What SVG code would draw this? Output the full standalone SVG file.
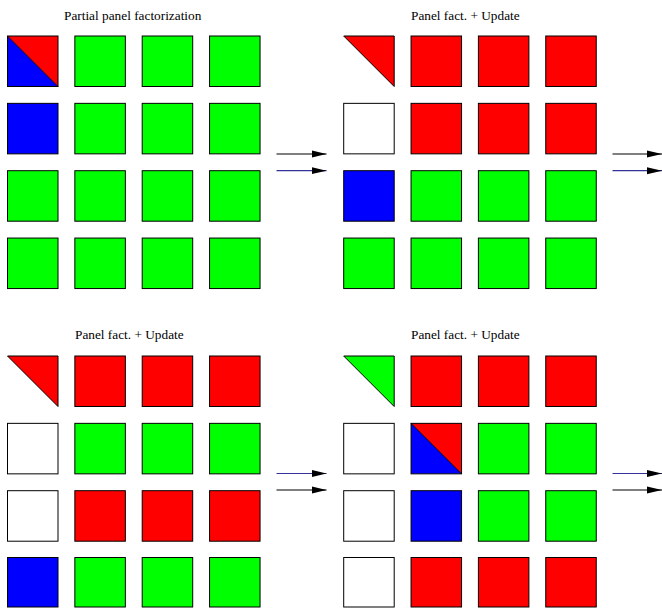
<svg xmlns="http://www.w3.org/2000/svg" width="662" height="608" viewBox="0 0 662 608">
<style>
.c{stroke:#000;stroke-width:1}
.r{fill:#ff0000}.g{fill:#00ff00}.b{fill:#0000ff}.w{fill:#ffffff}
.n{fill:none;stroke:#000;stroke-width:1}
.t{font-family:"Liberation Serif","Times New Roman",serif;font-size:13.3px;fill:#000}
.a1{stroke:#000;stroke-width:1.2;fill:none}
.a2{stroke:#333399;stroke-width:1.2;fill:none}
</style>
<defs>
<marker id="ah" markerWidth="15" markerHeight="8" refX="15" refY="4" orient="auto" markerUnits="userSpaceOnUse">
<path d="M0,0.5 L15,4 L0,7.5 Z" fill="#000"/>
</marker>
</defs>

<g id="panel-top-left">
<text class="t" x="64" y="20">Partial panel factorization</text>
<polygon class="b" points="7.5,36 7.5,86.5 58,86.5"/>
<polygon class="r" points="7.5,36 58,36 58,86.5"/>
<rect class="n" x="7.5" y="36" width="50.5" height="50.5"/>
<line class="n" x1="7.5" y1="36" x2="58" y2="86.5"/>
<rect class="c g" x="74.85" y="36" width="50.5" height="50.5"/>
<rect class="c g" x="142.2" y="36" width="50.5" height="50.5"/>
<rect class="c g" x="209.55" y="36" width="50.5" height="50.5"/>
<rect class="c b" x="7.5" y="103.35" width="50.5" height="50.5"/>
<rect class="c g" x="74.85" y="103.35" width="50.5" height="50.5"/>
<rect class="c g" x="142.2" y="103.35" width="50.5" height="50.5"/>
<rect class="c g" x="209.55" y="103.35" width="50.5" height="50.5"/>
<rect class="c g" x="7.5" y="170.7" width="50.5" height="50.5"/>
<rect class="c g" x="74.85" y="170.7" width="50.5" height="50.5"/>
<rect class="c g" x="142.2" y="170.7" width="50.5" height="50.5"/>
<rect class="c g" x="209.55" y="170.7" width="50.5" height="50.5"/>
<rect class="c g" x="7.5" y="238.05" width="50.5" height="50.5"/>
<rect class="c g" x="74.85" y="238.05" width="50.5" height="50.5"/>
<rect class="c g" x="142.2" y="238.05" width="50.5" height="50.5"/>
<rect class="c g" x="209.55" y="238.05" width="50.5" height="50.5"/>
</g>

<g id="panel-top-right">
<text class="t" x="411" y="20">Panel fact. + Update</text>
<polygon class="c r" points="343.7,36 394.2,36 394.2,86.5"/>
<rect class="c r" x="411.05" y="36" width="50.5" height="50.5"/>
<rect class="c r" x="478.4" y="36" width="50.5" height="50.5"/>
<rect class="c r" x="545.75" y="36" width="50.5" height="50.5"/>
<rect class="c w" x="343.7" y="103.35" width="50.5" height="50.5"/>
<rect class="c r" x="411.05" y="103.35" width="50.5" height="50.5"/>
<rect class="c r" x="478.4" y="103.35" width="50.5" height="50.5"/>
<rect class="c r" x="545.75" y="103.35" width="50.5" height="50.5"/>
<rect class="c b" x="343.7" y="170.7" width="50.5" height="50.5"/>
<rect class="c g" x="411.05" y="170.7" width="50.5" height="50.5"/>
<rect class="c g" x="478.4" y="170.7" width="50.5" height="50.5"/>
<rect class="c g" x="545.75" y="170.7" width="50.5" height="50.5"/>
<rect class="c g" x="343.7" y="238.05" width="50.5" height="50.5"/>
<rect class="c g" x="411.05" y="238.05" width="50.5" height="50.5"/>
<rect class="c g" x="478.4" y="238.05" width="50.5" height="50.5"/>
<rect class="c g" x="545.75" y="238.05" width="50.5" height="50.5"/>
</g>

<g id="panel-bottom-left">
<text class="t" x="75" y="339">Panel fact. + Update</text>
<polygon class="c r" points="7.5,356 58,356 58,406.5"/>
<rect class="c r" x="74.85" y="356" width="50.5" height="50.5"/>
<rect class="c r" x="142.2" y="356" width="50.5" height="50.5"/>
<rect class="c r" x="209.55" y="356" width="50.5" height="50.5"/>
<rect class="c w" x="7.5" y="423.35" width="50.5" height="50.5"/>
<rect class="c g" x="74.85" y="423.35" width="50.5" height="50.5"/>
<rect class="c g" x="142.2" y="423.35" width="50.5" height="50.5"/>
<rect class="c g" x="209.55" y="423.35" width="50.5" height="50.5"/>
<rect class="c w" x="7.5" y="490.7" width="50.5" height="50.5"/>
<rect class="c r" x="74.85" y="490.7" width="50.5" height="50.5"/>
<rect class="c r" x="142.2" y="490.7" width="50.5" height="50.5"/>
<rect class="c r" x="209.55" y="490.7" width="50.5" height="50.5"/>
<rect class="c b" x="7.5" y="557.5" width="50.5" height="49.5"/>
<rect class="c g" x="74.85" y="557.5" width="50.5" height="49.5"/>
<rect class="c g" x="142.2" y="557.5" width="50.5" height="49.5"/>
<rect class="c g" x="209.55" y="557.5" width="50.5" height="49.5"/>
</g>

<g id="panel-bottom-right">
<text class="t" x="411" y="339">Panel fact. + Update</text>
<polygon class="c g" points="343.7,356 394.2,356 394.2,406.5"/>
<rect class="c r" x="411.05" y="356" width="50.5" height="50.5"/>
<rect class="c r" x="478.4" y="356" width="50.5" height="50.5"/>
<rect class="c r" x="545.75" y="356" width="50.5" height="50.5"/>
<rect class="c w" x="343.7" y="423.35" width="50.5" height="50.5"/>
<polygon class="b" points="411.05,423.35 411.05,473.85 461.55,473.85"/>
<polygon class="r" points="411.05,423.35 461.55,423.35 461.55,473.85"/>
<rect class="n" x="411.05" y="423.35" width="50.5" height="50.5"/>
<line class="n" x1="411.05" y1="423.35" x2="461.55" y2="473.85"/>
<rect class="c g" x="478.4" y="423.35" width="50.5" height="50.5"/>
<rect class="c g" x="545.75" y="423.35" width="50.5" height="50.5"/>
<rect class="c w" x="343.7" y="490.7" width="50.5" height="50.5"/>
<rect class="c b" x="411.05" y="490.7" width="50.5" height="50.5"/>
<rect class="c g" x="478.4" y="490.7" width="50.5" height="50.5"/>
<rect class="c g" x="545.75" y="490.7" width="50.5" height="50.5"/>
<rect class="c w" x="343.7" y="557.5" width="50.5" height="49.5"/>
<rect class="c r" x="411.05" y="557.5" width="50.5" height="49.5"/>
<rect class="c r" x="478.4" y="557.5" width="50.5" height="49.5"/>
<rect class="c r" x="545.75" y="557.5" width="50.5" height="49.5"/>
</g>

<g id="connectors">
<line class="a1" x1="276.5" y1="154" x2="326.5" y2="154" marker-end="url(#ah)"/>
<line class="a2" x1="276.5" y1="170.7" x2="326.5" y2="170.7" marker-end="url(#ah)"/>
<line class="a1" x1="612.5" y1="154" x2="662" y2="154" marker-end="url(#ah)"/>
<line class="a2" x1="612.5" y1="170.7" x2="662" y2="170.7" marker-end="url(#ah)"/>
<line class="a2" x1="276.5" y1="473.5" x2="326.5" y2="473.5" marker-end="url(#ah)"/>
<line class="a1" x1="276.5" y1="490" x2="326.5" y2="490" marker-end="url(#ah)"/>
<line class="a2" x1="612.5" y1="473.5" x2="662" y2="473.5" marker-end="url(#ah)"/>
<line class="a1" x1="612.5" y1="490" x2="662" y2="490" marker-end="url(#ah)"/>
</g>
</svg>
